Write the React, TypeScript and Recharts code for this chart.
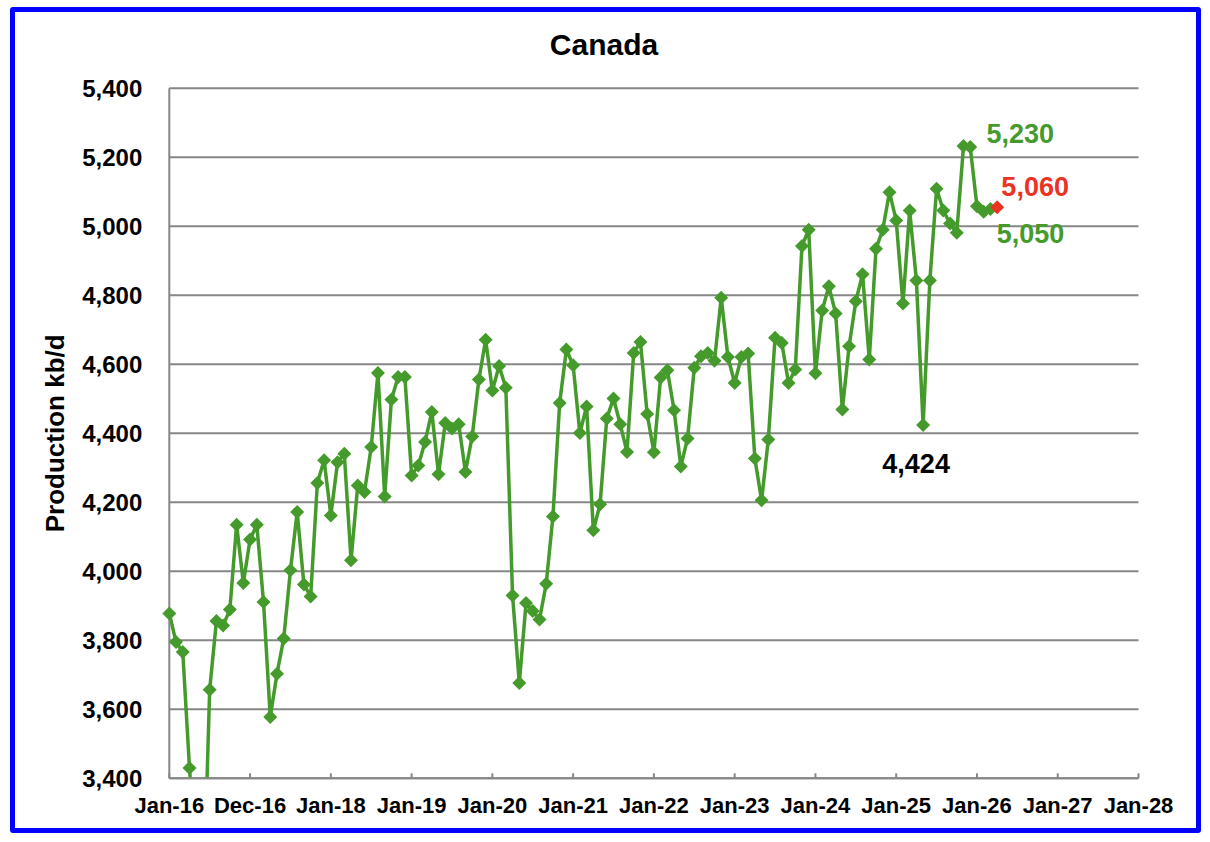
import React from 'react';
import { LineChart, Line, XAxis, YAxis, CartesianGrid, ReferenceDot } from 'recharts';

// ---------- data ----------
const xTickLabels = ['Jan-16', 'Dec-16', 'Jan-18', 'Jan-19', 'Jan-20', 'Jan-21', 'Jan-22', 'Jan-23', 'Jan-24', 'Jan-25', 'Jan-26', 'Jan-27', 'Jan-28'];
const xTickMonths = [0, 12, 24, 36, 48, 60, 72, 84, 96, 108, 120, 132, 144];
const yTicks = [3400, 3600, 3800, 4000, 4200, 4400, 4600, 4800, 5000, 5200, 5400];

const prod2016 = [3878, 3795, 3766, 3430, 3150, 3000, 3657, 3856, 3843, 3889, 4135, 3966];
const prod2017 = [4092, 4135, 3911, 3578, 3703, 3805, 4003, 4172, 3962, 3927, 4256, 4322];
const prod2018 = [4162, 4316, 4341, 4032, 4249, 4230, 4360, 4575, 4217, 4498, 4563, 4563];
const prod2019 = [4278, 4307, 4375, 4462, 4281, 4430, 4414, 4426, 4288, 4391, 4556, 4671];
const prod2020 = [4524, 4595, 4532, 3930, 3676, 3908, 3885, 3860, 3964, 4159, 4488, 4643];
const prod2021 = [4597, 4401, 4478, 4119, 4194, 4443, 4501, 4426, 4346, 4633, 4665, 4456];
const prod2022 = [4345, 4562, 4583, 4467, 4304, 4385, 4590, 4623, 4633, 4610, 4793, 4621];
const prod2023 = [4546, 4621, 4631, 4327, 4206, 4382, 4677, 4662, 4546, 4585, 4943, 4990];
const prod2024 = [4574, 4756, 4826, 4747, 4469, 4652, 4783, 4861, 4614, 4935, 4990, 5099];
const prod2025 = [5017, 4776, 5046, 4843, 4424, 4843, 5109, 5046, 5008, 4981, 5233, 5230];
const prod2026 = [5058, 5042, 5050];

const forecastMonth = 123; // Apr-26
const forecastValue = 5055;

const annotations = [
  { m: 119, value: 5230, text: '5,230', kind: 'green' },
  { m: 112, value: 4424, text: '4,424', kind: 'black' },
  { m: 122, value: 5050, text: '5,050', kind: 'green' },
  { m: 123, value: 5055, text: '5,060', kind: 'red' },
];

const production = [
  ...prod2016, ...prod2017, ...prod2018, ...prod2019, ...prod2020, ...prod2021,
  ...prod2022, ...prod2023, ...prod2024, ...prod2025, ...prod2026,
];

const chartData: any[] = production.map((v, i) => ({ m: i, prod: v }));
chartData.push({ m: forecastMonth, fc: forecastValue });

// ---------- styles ----------
const FONT = '"Liberation Sans", Arial, Helvetica, sans-serif';
const GREEN = '#459A2C';
const RED = '#EA3323';
const GRID = '#878787';
const colorOf: Record<string, string> = { green: GREEN, red: RED, black: '#000000' };
const labelOffsets = [
  { dx: 50, dy: -4 },
  { dx: -7, dy: 48 },
  { dx: 40, dy: 34 },
  { dx: 38, dy: -11 },
];

const X_TICK_MARGIN = 19;
const DIAMOND_R = 7;

const diamondPath = (cx: number, cy: number) =>
  `M${cx},${cy - DIAMOND_R}L${cx + DIAMOND_R},${cy}L${cx},${cy + DIAMOND_R}L${cx - DIAMOND_R},${cy}Z`;

const XTick = (props: any) => {
  const { x, y, payload } = props;
  const idx = xTickMonths.indexOf(payload.value);
  const axisY = y - X_TICK_MARGIN;
  return (
    <g>
      <line x1={x} x2={x} y1={axisY} y2={axisY - 5} stroke={GRID} strokeWidth={2} />
      <text x={x} y={y} dy="0.71em" textAnchor="middle" fontFamily={FONT} fontWeight="bold" fontSize={22} fill="#000">
        {xTickLabels[idx]}
      </text>
    </g>
  );
};

const YLabel = (props: any) => {
  const vb = props.viewBox || {};
  const cx = 55;
  const cy = vb.y + vb.height / 2;
  return (
    <text
      x={cx}
      y={cy}
      transform={`rotate(-90, ${cx}, ${cy})`}
      textAnchor="middle"
      dominantBaseline="central"
      fontFamily={FONT}
      fontWeight="bold"
      fontSize={26}
      fill="#000"
    >
      Production kb/d
    </text>
  );
};

export default function App() {
  return (
    <div style={{ position: 'absolute', left: 0, top: 0, width: 1210, height: 842, background: '#fff', overflow: 'hidden' }}>
      <div
        style={{
          position: 'absolute',
          left: 10,
          top: 7,
          width: 1191,
          height: 826,
          border: '5px solid #0000FF',
          borderRadius: 3,
          boxSizing: 'border-box',
        }}
      />
      <svg style={{ position: 'absolute', left: 0, top: 0 }} width={1210} height={80}>
        <text x={604} y={55} textAnchor="middle" fontFamily={FONT} fontWeight="bold" fontSize={30} fill="#000">
          Canada
        </text>
      </svg>
      <div style={{ position: 'absolute', left: 0, top: 0 }}>
        <LineChart
          width={1210}
          height={842}
          data={chartData}
          margin={{ top: 88.3, right: 71.5, bottom: 33.7, left: 69.3 }}
        >
          <CartesianGrid horizontal vertical={false} stroke={GRID} strokeWidth={2} />
          <XAxis
            dataKey="m"
            type="number"
            domain={[0, 144]}
            ticks={xTickMonths}
            interval={0}
            height={30}
            tickSize={0}
            tickMargin={X_TICK_MARGIN}
            tickLine={false}
            axisLine={{ stroke: GRID, strokeWidth: 2 }}
            tick={<XTick />}
            allowDataOverflow
          />
          <YAxis
            type="number"
            domain={[3400, 5400]}
            ticks={yTicks}
            interval={0}
            width={100}
            tickSize={0}
            tickMargin={27}
            tickLine={false}
            axisLine={{ stroke: GRID, strokeWidth: 2 }}
            tick={{ fontFamily: FONT, fontWeight: 'bold', fontSize: 24, fill: '#000' }}
            tickFormatter={(v: number) => v.toLocaleString('en-US')}
            allowDataOverflow
            label={<YLabel />}
          />
          <Line
            dataKey="prod"
            stroke={GREEN}
            strokeWidth={3.5}
            dot={false}
            activeDot={false}
            isAnimationActive={false}
            connectNulls={false}
          />
          {production.map((v, i) => (
            <ReferenceDot
              key={`p-${i}`}
              x={i}
              y={v}
              r={0}
              ifOverflow="visible"
              shape={(p: any) => <path d={diamondPath(p.cx, p.cy)} fill={GREEN} />}
            />
          ))}
          <Line
            dataKey="fc"
            stroke={RED}
            strokeWidth={3}
            dot={false}
            activeDot={false}
            isAnimationActive={false}
          />
          <ReferenceDot
            x={forecastMonth}
            y={forecastValue}
            r={0}
            ifOverflow="visible"
            shape={(p: any) => <path d={diamondPath(p.cx, p.cy)} fill={RED} />}
          />
          {annotations.map((a, i) => (
            <ReferenceDot
              key={`a-${i}`}
              x={a.m}
              y={a.value}
              r={0}
              ifOverflow="visible"
              shape={(p: any) => (
                <text
                  x={p.cx + labelOffsets[i].dx}
                  y={p.cy + labelOffsets[i].dy}
                  textAnchor="middle"
                  fontFamily={FONT}
                  fontWeight="bold"
                  fontSize={27}
                  fill={colorOf[a.kind]}
                >
                  {a.text}
                </text>
              )}
            />
          ))}
        </LineChart>
      </div>
    </div>
  );
}
